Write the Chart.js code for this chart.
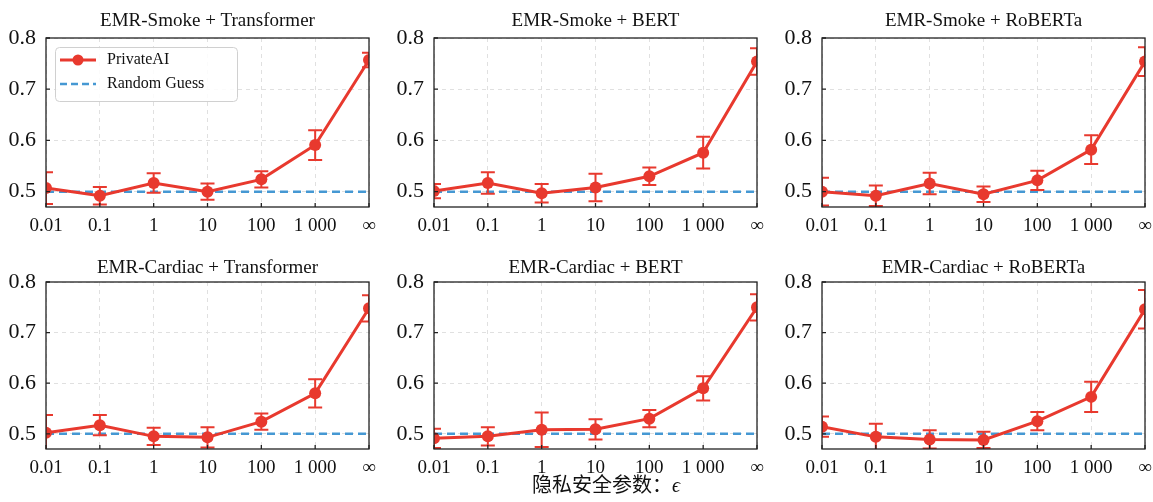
<!DOCTYPE html>
<html lang="zh">
<head>
<meta charset="UTF-8">
<title>PrivateAI vs Random Guess</title>
<script src="https://cdn.jsdelivr.net/npm/chart.js"></script>
<style>
  html, body { margin: 0; padding: 0; background: #fff; overflow: hidden; }
  body { position: relative; width: 1153px; height: 502px; }
  canvas { position: absolute; }
  #xlabel {
    position: absolute; left: 406px; width: 400px; top: 471px;
    text-align: center; font-size: 20px; line-height: 26px; color: #111;
    font-family: "Noto Sans CJK SC", sans-serif;
  }
  #xlabel i { font-family: "Liberation Serif", "DejaVu Serif", serif; }
</style>
</head>
<body>
<canvas id="c0" width="385" height="245" style="left:0px;top:0px"></canvas>
<canvas id="c1" width="385" height="245" style="left:388px;top:0px"></canvas>
<canvas id="c2" width="385" height="245" style="left:776px;top:0px"></canvas>
<canvas id="c3" width="385" height="257" style="left:0px;top:245px"></canvas>
<canvas id="c4" width="385" height="257" style="left:388px;top:245px"></canvas>
<canvas id="c5" width="385" height="257" style="left:776px;top:245px"></canvas>
<div id="xlabel">隐私安全参数：<i>ϵ</i></div>

<script>
// x categories (privacy parameter epsilon) and y ticks
const epsLabels = ['0.01', '0.1', '1', '10', '100', '1 000', '∞'];
const yTickValues = [0.5, 0.6, 0.7, 0.8];
const randomGuess = [0.5, 0.5, 0.5, 0.5, 0.5, 0.5, 0.5];

// PrivateAI attack accuracy, with error bar half-lengths
const smokeTransformer = [0.507, 0.492, 0.517, 0.500, 0.524, 0.591, 0.757];
const smokeTransformerErr = [0.031, 0.017, 0.019, 0.016, 0.016, 0.029, 0.014];
const smokeBert = [0.501, 0.517, 0.497, 0.508, 0.530, 0.576, 0.754];
const smokeBertErr = [0.014, 0.021, 0.018, 0.027, 0.017, 0.031, 0.026];
const smokeRoberta = [0.500, 0.492, 0.516, 0.495, 0.522, 0.582, 0.754];
const smokeRobertaErr = [0.027, 0.020, 0.021, 0.015, 0.019, 0.028, 0.028];
const cardiacTransformer = [0.502, 0.517, 0.495, 0.493, 0.524, 0.580, 0.748];
const cardiacTransformerErr = [0.035, 0.020, 0.017, 0.020, 0.016, 0.028, 0.026];
const cardiacBert = [0.491, 0.495, 0.508, 0.509, 0.530, 0.590, 0.750];
const cardiacBertErr = [0.019, 0.018, 0.034, 0.020, 0.017, 0.024, 0.026];
const cardiacRoberta = [0.514, 0.494, 0.489, 0.488, 0.525, 0.573, 0.746];
const cardiacRobertaErr = [0.020, 0.026, 0.018, 0.016, 0.018, 0.030, 0.038];

const titles = [
  'EMR-Smoke + Transformer', 'EMR-Smoke + BERT', 'EMR-Smoke + RoBERTa',
  'EMR-Cardiac + Transformer', 'EMR-Cardiac + BERT', 'EMR-Cardiac + RoBERTa'
];
const seriesValues = [smokeTransformer, smokeBert, smokeRoberta, cardiacTransformer, cardiacBert, cardiacRoberta];
const seriesErrors = [smokeTransformerErr, smokeBertErr, smokeRobertaErr, cardiacTransformerErr, cardiacBertErr, cardiacRobertaErr];

const RED = '#e8392e';
const BLUE = '#4598d3';
const SERIF = '"Liberation Serif", "Times New Roman", serif';

// error bars under the red markers
const errorBarPlugin = {
  id: 'errorBars',
  beforeDatasetDraw(chart, args) {
    if (args.index !== 0) return;
    const ds = chart.data.datasets[0];
    const xs = chart.scales.x, ys = chart.scales.y, a = chart.chartArea;
    const ctx = chart.ctx;
    ctx.save();
    ctx.beginPath();
    ctx.rect(a.left, a.top, a.width, a.height);
    ctx.clip();
    ctx.strokeStyle = RED;
    ctx.lineWidth = 2;
    ds.data.forEach((v, i) => {
      const x = xs.getPixelForValue(i);
      const y1 = ys.getPixelForValue(v + ds.errors[i]);
      const y2 = ys.getPixelForValue(v - ds.errors[i]);
      ctx.beginPath();
      ctx.moveTo(x, y1); ctx.lineTo(x, y2);
      ctx.moveTo(x - 7, y1); ctx.lineTo(x + 7, y1);
      ctx.moveTo(x - 7, y2); ctx.lineTo(x + 7, y2);
      ctx.stroke();
    });
    ctx.restore();
  }
};

// black box round the plot + small inward ticks
const framePlugin = {
  id: 'frame',
  afterDatasetsDraw(chart) {
    const a = chart.chartArea, ctx = chart.ctx;
    ctx.save();
    ctx.strokeStyle = '#222';
    ctx.lineWidth = 1.3;
    ctx.strokeRect(a.left, a.top, a.width, a.height);
    ctx.beginPath();
    chart.scales.x.ticks.forEach((t, i) => {
      const x = chart.scales.x.getPixelForTick(i);
      ctx.moveTo(x, a.bottom); ctx.lineTo(x, a.bottom - 4);
    });
    chart.scales.y.ticks.forEach((t, i) => {
      const y = chart.scales.y.getPixelForTick(i);
      ctx.moveTo(a.left, y); ctx.lineTo(a.left + 4, y);
    });
    ctx.stroke();
    ctx.restore();
  }
};

// legend box inside the first panel
const legendPlugin = {
  id: 'insideLegend',
  afterDraw(chart) {
    const a = chart.chartArea, ctx = chart.ctx;
    const ds = chart.data.datasets;
    const bx = a.left + 9, by = a.top + 9;
    ctx.save();
    ctx.fillStyle = 'rgba(255,255,255,0.85)';
    ctx.strokeStyle = '#d0d0d0';
    ctx.lineWidth = 1;
    ctx.beginPath();
    ctx.roundRect(bx + 0.5, by + 0.5, 182, 54, 4);
    ctx.fill();
    ctx.stroke();

    ctx.strokeStyle = RED;
    ctx.lineWidth = 3;
    ctx.beginPath();
    ctx.moveTo(bx + 5, by + 13); ctx.lineTo(bx + 41, by + 13);
    ctx.stroke();
    ctx.fillStyle = RED;
    ctx.beginPath();
    ctx.arc(bx + 23, by + 13, 5.5, 0, Math.PI * 2);
    ctx.fill();

    ctx.strokeStyle = BLUE;
    ctx.lineWidth = 2.5;
    ctx.setLineDash([7, 4]);
    ctx.beginPath();
    ctx.moveTo(bx + 5, by + 37); ctx.lineTo(bx + 41, by + 37);
    ctx.stroke();
    ctx.setLineDash([]);

    ctx.fillStyle = '#111';
    ctx.font = '16px ' + SERIF;
    ctx.textBaseline = 'middle';
    ctx.fillText(ds[0].label, bx + 52, by + 13);
    ctx.fillText(ds[1].label, bx + 52, by + 37);
    ctx.restore();
  }
};

function makeChart(k) {
  const row = k < 3 ? 0 : 1;
  const plugins = [errorBarPlugin, framePlugin];
  if (k === 0) plugins.push(legendPlugin);
  const gridOpts = { color: '#e0e0e0', lineWidth: 1, drawTicks: false };
  new Chart(document.getElementById('c' + k), {
    type: 'line',
    data: {
      labels: epsLabels,
      datasets: [
        {
          label: 'PrivateAI',
          data: seriesValues[k],
          errors: seriesErrors[k],
          borderColor: RED,
          backgroundColor: RED,
          borderWidth: 3,
          pointRadius: 6,
          pointBorderWidth: 0,
          pointBackgroundColor: RED,
          tension: 0,
          clip: 0,
          order: 0
        },
        {
          label: 'Random Guess',
          data: randomGuess,
          borderColor: BLUE,
          borderWidth: 2.5,
          borderDash: [8, 5],
          pointRadius: 0,
          clip: 0,
          order: 1
        }
      ]
    },
    options: {
      responsive: false,
      animation: false,
      devicePixelRatio: 1,
      layout: { padding: { left: 0, right: 16, top: 0, bottom: 0 } },
      plugins: {
        legend: { display: false },
        tooltip: { enabled: false },
        title: {
          display: true,
          fullSize: false,
          text: titles[k],
          color: '#111',
          font: { family: SERIF, size: 19, weight: 'normal', lineHeight: 1.2 },
          padding: row === 0 ? { top: 10, bottom: 5.2 } : { top: 11.5, bottom: 2.7 }
        }
      },
      scales: {
        x: {
          type: 'category',
          offset: false,
          grid: gridOpts,
          border: { display: false, dash: [4, 4] },
          ticks: {
            color: '#111', padding: 8, maxRotation: 0, autoSkip: false,
            font: { family: SERIF, size: 19 }
          },
          afterFit(s) { s.height = row === 0 ? 38 : 53; }
        },
        y: {
          min: 0.47,
          max: 0.8,
          grid: gridOpts,
          border: { display: false, dash: [4, 4] },
          afterBuildTicks(s) { s.ticks = yTickValues.map(v => ({ value: v })); },
          ticks: {
            color: '#111', padding: 10,
            font: { family: SERIF, size: 22 },
            callback: v => v.toFixed(1)
          },
          afterFit(s) { s.width = 46; }
        }
      }
    },
    plugins: plugins
  });
}

for (let k = 0; k < 6; k++) makeChart(k);
</script>
</body>
</html>
